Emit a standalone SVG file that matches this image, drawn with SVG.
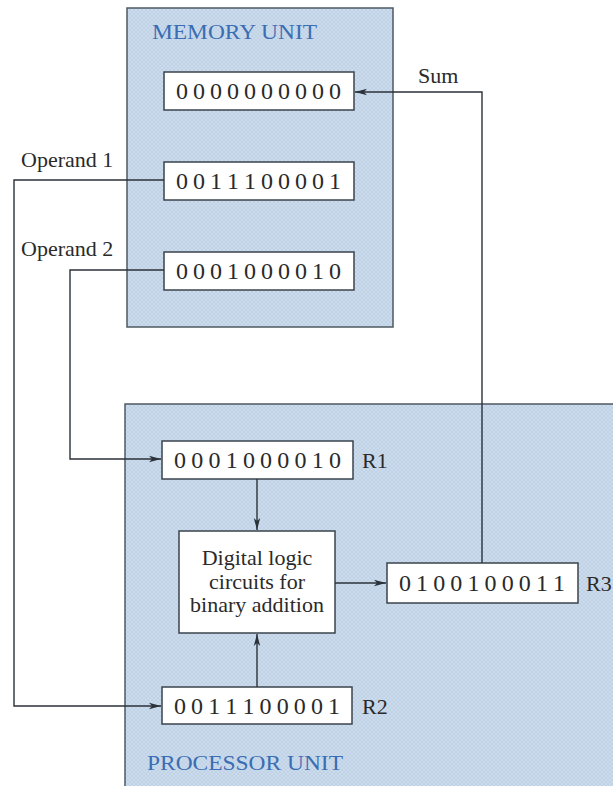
<svg xmlns="http://www.w3.org/2000/svg" width="613" height="786" viewBox="0 0 613 786">
<defs>
<pattern id="hatch" width="4" height="4" patternUnits="userSpaceOnUse">
<rect width="4" height="4" fill="#cddcec"/>
<path d="M0,4 L4,0 M0,0 L4,4" stroke="#b6cae0" stroke-width="0.6"/>
</pattern>
<marker id="arr" viewBox="0 0 12 8" refX="12" refY="4" markerWidth="12" markerHeight="8" markerUnits="userSpaceOnUse" orient="auto">
<path d="M0,0.8 L12,4 L0,7.2 L3,4 Z" fill="#2b323a"/>
</marker>
</defs>
<style>
.unit{fill:url(#hatch);stroke:#4d5863;stroke-width:1.5}
.reg{fill:#ffffff;stroke:#3a434c;stroke-width:1.5}
.t{font-family:"Liberation Serif","DejaVu Serif",serif;fill:#2a2a2a}
.d{font-size:24px}
.lbl{font-size:22px}
.blue{font-family:"Liberation Serif","DejaVu Serif",serif;fill:#3a6db3;font-size:21px}
.c{fill:none;stroke:#2b323a;stroke-width:1.4}
</style>
<rect width="613" height="786" fill="#ffffff"/>
<g id="memory-unit">
<rect class="unit" x="127" y="8" width="266" height="319"/>
<text class="blue" x="152" y="39" textLength="165" lengthAdjust="spacingAndGlyphs">MEMORY UNIT</text>
</g>
<g id="processor-unit">
<rect class="unit" x="125" y="404" width="495" height="390"/>
<text class="blue" x="147" y="770" textLength="196" lengthAdjust="spacingAndGlyphs">PROCESSOR UNIT</text>
</g>
<g id="mem-sum">
<rect class="reg" x="164" y="72" width="190" height="38"/>
<text class="t d" x="176" y="99" textLength="165">0 0 0 0 0 0 0 0 0 0</text>
</g>
<g id="mem-op1">
<rect class="reg" x="164" y="162" width="190" height="38"/>
<text class="t d" x="176" y="189" textLength="165">0 0 1 1 1 0 0 0 0 1</text>
</g>
<g id="mem-op2">
<rect class="reg" x="164" y="252" width="190" height="38"/>
<text class="t d" x="176" y="279" textLength="165">0 0 0 1 0 0 0 0 1 0</text>
</g>
<g id="r1">
<rect class="reg" x="162" y="441" width="191" height="38"/>
<text class="t d" x="174" y="468" textLength="167">0 0 0 1 0 0 0 0 1 0</text>
<text class="t lbl" x="362" y="468">R1</text>
</g>
<g id="logic">
<rect class="reg" x="179" y="531" width="156" height="102"/>
<text class="t lbl" x="257" y="565" text-anchor="middle">Digital logic</text>
<text class="t lbl" x="257" y="589" text-anchor="middle">circuits for</text>
<text class="t lbl" x="257" y="612" text-anchor="middle">binary addition</text>
</g>
<g id="r3">
<rect class="reg" x="387" y="563" width="191" height="40"/>
<text class="t d" x="399" y="591" textLength="166">0 1 0 0 1 0 0 0 1 1</text>
<text class="t lbl" x="586" y="591">R3</text>
</g>
<g id="r2">
<rect class="reg" x="162" y="687" width="190" height="37"/>
<text class="t d" x="174" y="714" textLength="166">0 0 1 1 1 0 0 0 0 1</text>
<text class="t lbl" x="362" y="714">R2</text>
</g>
<g id="labels">
<text class="t lbl" x="21" y="167">Operand 1</text>
<text class="t lbl" x="21" y="256">Operand 2</text>
<text class="t lbl" x="418" y="83">Sum</text>
</g>
<g id="connectors">
<path class="c" d="M164,180 H14 V706 H161" marker-end="url(#arr)"/>
<path class="c" d="M164,270 H70 V459 H161" marker-end="url(#arr)"/>
<path class="c" d="M257,479 V530" marker-end="url(#arr)"/>
<path class="c" d="M257,687 V634" marker-end="url(#arr)"/>
<path class="c" d="M335,583 H386" marker-end="url(#arr)"/>
<path class="c" d="M482,563 V92 H355" marker-end="url(#arr)"/>
</g>
</svg>
